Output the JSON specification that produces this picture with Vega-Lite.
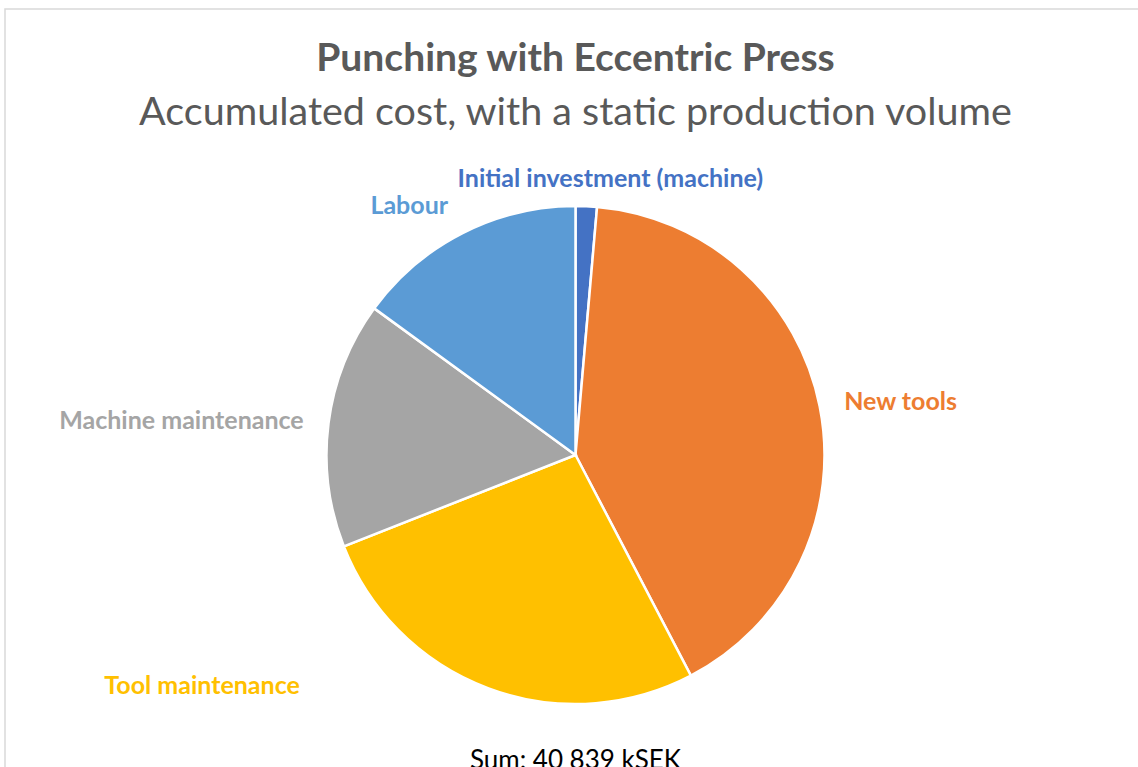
{
  "$schema": "https://vega.github.io/schema/vega-lite/v6.json",
  "width": 1141,
  "height": 892,
  "autosize": {"type": "none"},
  "padding": {"left": 5, "top": 9, "right": -8, "bottom": -134},
  "background": "white",
  "view": {"stroke": "#D9D9D9", "strokeWidth": 1.5},
  "config": {"view": {"stroke": "#D9D9D9", "strokeWidth": 1.5}, "font": "Lato"},
  "title": {
    "text": "Punching with Eccentric Press",
    "subtitle": "Accumulated cost, with a static production volume",
    "anchor": "middle",
    "offset": -123,
    "font": "Lato",
    "fontSize": 39,
    "fontWeight": "bold",
    "color": "#595959",
    "subtitleFont": "Lato",
    "subtitleFontSize": 39.5,
    "subtitleFontWeight": "normal",
    "subtitleColor": "#595959",
    "subtitlePadding": 15
  },
  "data": {
    "values": [
      {"category": "Initial investment (machine)", "cost": 564, "order": 1},
      {"category": "New tools", "cost": 16724, "order": 2},
      {"category": "Tool maintenance", "cost": 10900, "order": 3},
      {"category": "Machine maintenance", "cost": 6534, "order": 4},
      {"category": "Labour", "cost": 6117, "order": 5}
    ]
  },
  "layer": [
    {
      "mark": {"type": "arc", "radius": 249, "stroke": "white", "strokeWidth": 2.5},
      "encoding": {
        "theta": {"field": "cost", "type": "quantitative", "stack": true},
        "order": {"field": "order", "type": "quantitative"},
        "color": {
          "field": "category",
          "type": "nominal",
          "legend": null,
          "scale": {
            "domain": ["Initial investment (machine)", "New tools", "Tool maintenance", "Machine maintenance", "Labour"],
            "range": ["#4472C4", "#ED7D31", "#FFC000", "#A5A5A5", "#5B9BD5"]
          }
        }
      }
    },
    {
      "mark": {
        "type": "text",
        "radius": 274,
        "font": "Lato",
        "fontSize": 25,
        "fontWeight": "bold",
        "baseline": "middle",
        "align": {"expr": "datum.category == 'New tools' ? 'left' : (datum.category == 'Machine maintenance' || datum.category == 'Tool maintenance') ? 'right' : 'center'"},
        "dx": {"expr": "datum.category == 'Initial investment (machine)' ? 23 : datum.category == 'Labour' ? -42 : datum.category == 'Tool maintenance' ? -180 : 0"},
        "dy": {"expr": "datum.category == 'Initial investment (machine)' ? -2 : datum.category == 'Labour' ? -5 : datum.category == 'Tool maintenance' ? -26 : 1"}
      },
      "encoding": {
        "theta": {"field": "cost", "type": "quantitative", "stack": true},
        "order": {"field": "order", "type": "quantitative"},
        "text": {"field": "category", "type": "nominal"},
        "color": {"field": "category", "type": "nominal", "legend": null}
      }
    },
    {
      "transform": [
        {"aggregate": [{"op": "sum", "field": "cost", "as": "total"}]},
        {"calculate": "'Sum: ' + replace(format(datum.total, ','), ',', ' ') + ' kSEK'", "as": "label"}
      ],
      "mark": {"type": "text", "font": "Lato", "fontSize": 26, "color": "black", "baseline": "middle", "align": "center"},
      "encoding": {
        "text": {"field": "label", "type": "nominal"},
        "theta": {"value": 3.14159265},
        "radius": {"value": 306}
      }
    }
  ]
}
